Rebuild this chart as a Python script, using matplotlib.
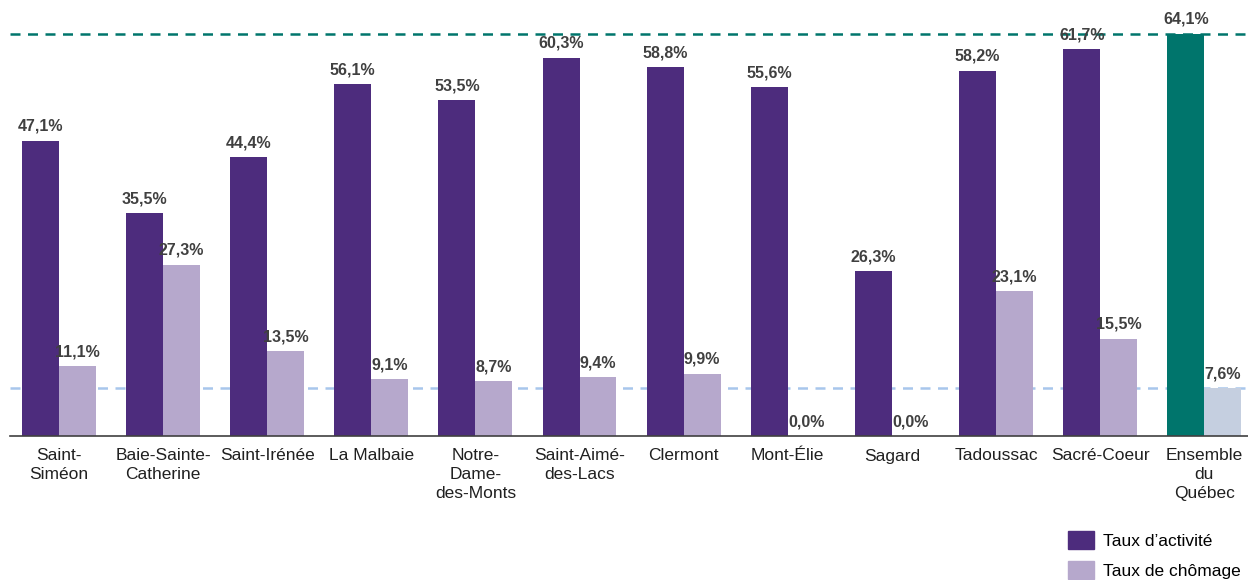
import numpy as np
import matplotlib
matplotlib.use('Agg')
import matplotlib.pyplot as plt
from matplotlib.patches import Patch

plt.rcParams['font.family'] = ['Liberation Sans', 'DejaVu Sans']

# ── Données ──
villes = ['Saint-\nSiméon', 'Baie-Sainte-\nCatherine', 'Saint-Irénée', 'La Malbaie',
          'Notre-\nDame-\ndes-Monts', 'Saint-Aimé-\ndes-Lacs', 'Clermont', 'Mont-Élie',
          'Sagard', 'Tadoussac', 'Sacré-Coeur', 'Ensemble\ndu\nQuébec']
activite = [47.1, 35.5, 44.4, 56.1, 53.5, 60.3, 58.8, 55.6, 26.3, 58.2, 61.7, 64.1]
chomage = [11.1, 27.3, 13.5, 9.1, 8.7, 9.4, 9.9, 0.0, 0.0, 23.1, 15.5, 7.6]

c_act = '#4D2C7D'
c_cho = '#B6A8CC'
c_act_qc = '#00756C'
c_cho_qc = '#C5CFE0'

fig = plt.figure(figsize=(12.48, 5.80), dpi=100)
ax = fig.add_axes([0.008, 1 - 436 / 580, 0.992, 436 / 580])

x = np.arange(len(villes))
w = 0.355
cols_a = [c_act] * (len(villes) - 1) + [c_act_qc]
cols_c = [c_cho] * (len(villes) - 1) + [c_cho_qc]
ax.bar(x - w / 2, activite, w, color=cols_a, zorder=2)
ax.bar(x + w / 2, chomage, w, color=cols_c, zorder=2)

# lignes de référence (Québec)
ax.axhline(activite[-1], color='#00756C', ls=(0, (4, 3)), lw=1.8, zorder=3)
ax.axhline(chomage[-1], color='#A8C6EC', ls=(0, (4, 3)), lw=1.8, zorder=1)

def fmt(v):
    return f'{v:.1f}%'.replace('.', ',')

for xi, v in zip(x, activite):
    ax.text(xi - w / 2, v + 1.1, fmt(v), ha='center', va='bottom',
            fontsize=11.5, fontweight='bold', color='#404040', clip_on=False)
for xi, v in zip(x, chomage):
    ax.text(xi + w / 2, v + 1.1, fmt(v), ha='center', va='bottom',
            fontsize=11.5, fontweight='bold', color='#404040', clip_on=False)

ax.set_xlim(-0.47, 11.42)
ax.set_ylim(0, 69.5)
ax.set_xticks(x)
ax.set_xticklabels(villes, fontsize=12.5, color='#202020', linespacing=1.3)
ax.tick_params(axis='x', length=0, pad=9)
ax.set_yticks([])
for s in ['top', 'right', 'left']:
    ax.spines[s].set_visible(False)
ax.spines['bottom'].set_color('#404040')
ax.spines['bottom'].set_linewidth(1.2)

handles = [Patch(color=c_act, label='Taux d’activité'),
           Patch(color=c_cho, label='Taux de chômage')]
fig.legend(handles=handles, loc='lower left', bbox_to_anchor=(1052 / 1248, -0.025),
           frameon=False, fontsize=12.5, handlelength=1.5, handleheight=1.2,
           labelspacing=0.7, handletextpad=0.55)

fig.savefig('out.png', dpi=100)
